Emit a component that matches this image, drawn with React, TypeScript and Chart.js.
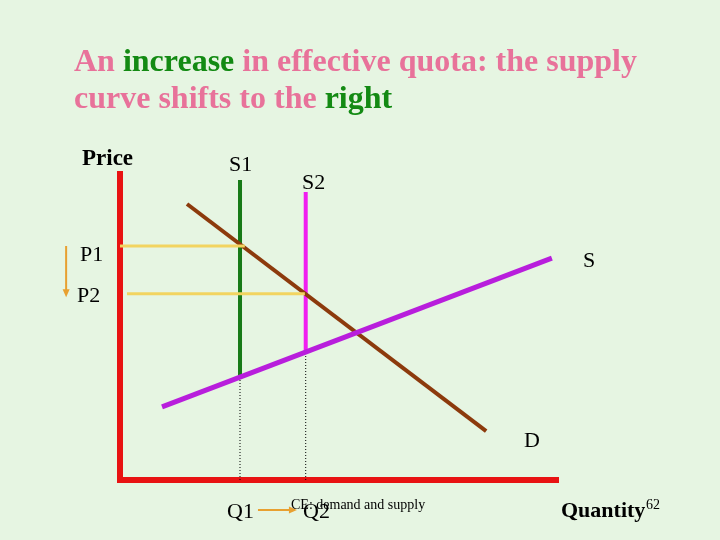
import React, { useEffect, useRef } from "react";
import { Chart, registerables } from "chart.js";

Chart.register(...registerables);

// ---- data (quantity / price units) ----
const Q1 = 2.74;
const Q2 = 4.24;
const P1 = 7.65;
const P2 = 6.09;

const demandQ = [1.53, 8.36];
const demandP = [9.02, 1.6];
const supplyQ = [0.96, 9.86];
const supplyP = [2.39, 7.25];
const s1Q = [Q1, Q1];
const s1P = [9.8, 3.37];
const s2Q = [Q2, Q2];
const s2P = [9.41, 4.18];
const p1Q = [0, 2.85];
const p1P = [P1, P1];
const p2Q = [0.16, 4.22];
const p2P = [P2, P2];
const dropQ1P = [0, 3.37];
const dropQ2P = [0, 4.18];
const priceArrowQ = [-1.23, -1.23];
const priceArrowP = [P1, 6.2];
const qtyArrowQ = [3.15, 3.88];
const qtyArrowP = [-0.98, -0.98];

const PINK = "#E8729A";
const GREEN = "#138A13";
const ORANGE = "#E8A030";

const titleLine1: [string, string][] = [
  ["An ", PINK],
  ["increase", GREEN],
  [" in effective quota: the supply", PINK],
];
const titleLine2: [string, string][] = [
  ["curve shifts to the ", PINK],
  ["right", GREEN],
];

const SERIF = '"Liberation Serif", "Times New Roman", serif';

type Label = { text: string; x: number; y: number; size: number; bold?: boolean };
const labels: Label[] = [
  { text: "Price", x: 82, y: 165, size: 23, bold: true },
  { text: "S1", x: 229, y: 171, size: 22 },
  { text: "S2", x: 302, y: 189, size: 22 },
  { text: "P1", x: 80, y: 261, size: 22 },
  { text: "P2", x: 77, y: 302, size: 22 },
  { text: "S", x: 583, y: 267, size: 22 },
  { text: "D", x: 524, y: 447, size: 22 },
  { text: "Q1", x: 227, y: 518, size: 22 },
  { text: "CE: demand and supply", x: 291, y: 509, size: 14 },
  { text: "Q2", x: 303, y: 518, size: 22 },
  { text: "Quantity", x: 561, y: 517, size: 22, bold: true },
  { text: "62", x: 646, y: 509, size: 14 },
];

// dataset indexes that end with an arrowhead, with head direction (radians)
const arrowHeads: [number, number][] = [
  [8, Math.PI / 2],
  [9, 0],
];

const pts = (xs: number[], ys: number[]) => xs.map((x, i) => ({ x, y: ys[i] }));

const slidePlugin = {
  id: "slide",
  beforeDraw(chart: any) {
    const { ctx, width, height } = chart;
    ctx.save();
    ctx.fillStyle = "#E6F5E2";
    ctx.fillRect(0, 0, width, height);
    ctx.restore();
  },
  afterDatasetsDraw(chart: any) {
    const { ctx } = chart;
    ctx.save();
    ctx.fillStyle = ORANGE;
    arrowHeads.forEach(([idx, ang]) => {
      const meta = chart.getDatasetMeta(idx);
      const p = meta.data[meta.data.length - 1];
      ctx.save();
      ctx.translate(p.x, p.y);
      ctx.rotate(ang);
      ctx.beginPath();
      ctx.moveTo(7, 0);
      ctx.lineTo(-1, -3.5);
      ctx.lineTo(-1, 3.5);
      ctx.closePath();
      ctx.fill();
      ctx.restore();
    });
    ctx.restore();
  },
  afterDraw(chart: any) {
    const { ctx } = chart;
    ctx.save();
    ctx.textBaseline = "alphabetic";
    ctx.font = `bold 32px ${SERIF}`;
    const drawLine = (segs: [string, string][], x0: number, y: number) => {
      let x = x0;
      segs.forEach(([t, c]) => {
        ctx.fillStyle = c;
        ctx.fillText(t, x, y);
        x += ctx.measureText(t).width;
      });
    };
    drawLine(titleLine1, 74, 71);
    drawLine(titleLine2, 74, 108);
    ctx.fillStyle = "#000";
    labels.forEach((l) => {
      ctx.font = `${l.bold ? "bold " : ""}${l.size}px ${SERIF}`;
      ctx.fillText(l.text, l.x, l.y);
    });
    ctx.restore();
  },
};

const line = (data: any[], color: string, width: number, order: number, extra: any = {}) => ({
  data,
  borderColor: color,
  backgroundColor: color,
  borderWidth: width,
  showLine: true,
  pointRadius: 0,
  borderCapStyle: "butt",
  order,
  ...extra,
});

export default function App() {
  const ref = useRef<HTMLCanvasElement>(null);
  useEffect(() => {
    const chart = new Chart(ref.current!, {
      type: "scatter",
      data: {
        datasets: [
          line(pts([Q1, Q1], dropQ1P), "#000", 1, 10, { borderDash: [1, 2] }),
          line(pts([Q2, Q2], dropQ2P), "#000", 1, 9, { borderDash: [1, 2] }),
          line(pts(s1Q, s1P), "#177A17", 4, 8),
          line(pts(s2Q, s2P), "#F01EF0", 4, 7),
          line(pts(demandQ, demandP), "#8C3A0C", 4, 6),
          line(pts(p1Q, p1P), "#F2D460", 3, 5),
          line(pts(p2Q, p2P), "#F2D460", 3, 4),
          line(pts(supplyQ, supplyP), "#B81EDC", 5, 3),
          line(pts(priceArrowQ, priceArrowP), ORANGE, 2, 2, { clip: false }),
          line(pts(qtyArrowQ, qtyArrowP), ORANGE, 2, 1, { clip: false }),
        ],
      },
      options: {
        responsive: false,
        animation: false,
        layout: { padding: { left: 120, top: 174, right: 162, bottom: 60 } },
        plugins: { legend: { display: false }, tooltip: { enabled: false } },
        scales: {
          x: {
            type: "linear",
            min: 0,
            max: 10,
            ticks: { display: false },
            grid: { display: false, drawTicks: false },
            border: { display: true, color: "#E81212", width: 6 },
          },
          y: {
            type: "linear",
            min: 0,
            max: 10,
            ticks: { display: false },
            grid: { display: false, drawTicks: false },
            border: { display: true, color: "#E81212", width: 6 },
          },
        },
      } as any,
      plugins: [slidePlugin],
    });
    return () => chart.destroy();
  }, []);
  return (
    <div style={{ position: "fixed", left: 0, top: 0, width: 720, height: 540 }}>
      <canvas ref={ref} width={720} height={540} style={{ display: "block" }} />
    </div>
  );
}
